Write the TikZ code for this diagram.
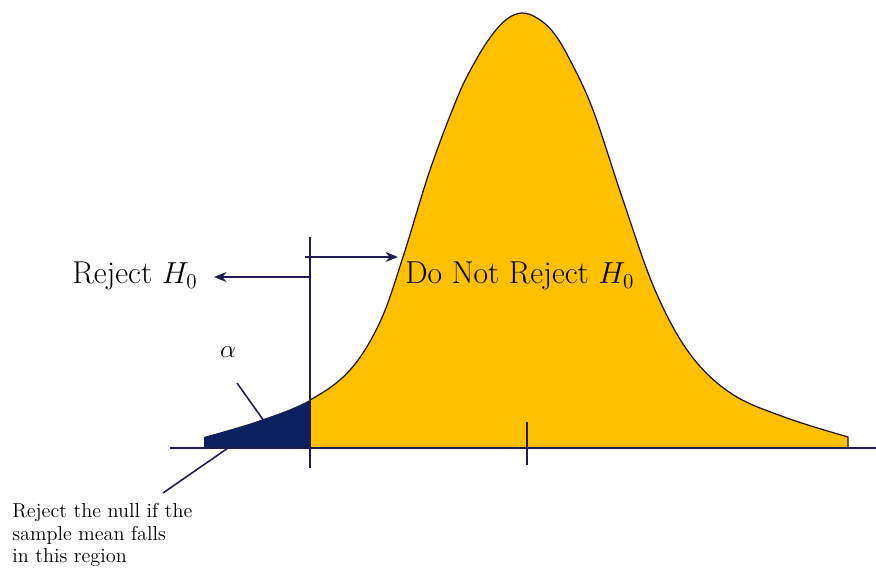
\documentclass[tikz,border=0pt]{standalone}
\usepackage{tikz}
\usetikzlibrary{arrows.meta}

\definecolor{bellgold}{HTML}{FFC000}
\definecolor{tailnavy}{HTML}{0C1F5E}
\definecolor{inkline}{HTML}{1E1B4F}

\begin{document}
\begin{tikzpicture}[x=0.02cm, y=-0.02cm,
  guide/.style={draw=inkline, line width=1.1pt},
  pointer/.style={-{Stealth[length=2.5mm, width=2mm]}, draw=inkline, line width=1.1pt},
  lbl/.style={inner sep=0pt, text=black}]
% frame of the picture (pixel grid of the reference)
\useasboundingbox (0,0) rectangle (876,574);

% coordinates
\coordinate (tailL) at (204,448); % left end of the rejection tail
\coordinate (tailR) at (848,448); % right end of the bell
\coordinate (cut) at (310,448);   % critical value on the axis
\coordinate (mu) at (527,448);    % centre tick on the axis

% area under the bell, saved for the shaded tail
\path[save path=\bellpath] (tailL) -- plot[smooth, tension=0.6] coordinates {(204,437)
    (258,421) (310,400) (350,370) (380,322) (403,257) (430,170) (458,96) (476,60) (492,35)
    (507,19) (522,13) (537,18) (553,32) (570,60) (593,110) (623,200) (655,290) (690,354)
    (732,394) (787,418) (848,437)}
  -- (tailR) -- cycle;
\fill[bellgold, use path=\bellpath];

% rejection region left of the cut
\begin{scope}
  \clip (0,0) rectangle (310,574);
  \fill[tailnavy, use path=\bellpath];
\end{scope}
\begin{scope}
  \clip (310,0) rectangle (876,574);
  \draw[black!85!brown, line width=0.7pt, use path=\bellpath];
\end{scope}

% horizontal axis and ticks
\draw[guide] (170,448) -- (876,448);
\draw[guide] (310,237) -- (310,468);
\draw[guide] (mu) ++(0,-26) -- ++(0,43);

% direction arrows from the critical line
\coordinate (rejfrom) at (310,277);
\coordinate (rejto) at (214,277);
\coordinate (accfrom) at (305,257);
\coordinate (accto) at (398,257);
\draw[pointer] (rejfrom) -- (rejto);
\draw[pointer] (accfrom) -- (accto);

% labels
\node[lbl, anchor=east, font=\fontsize{18}{22}\selectfont] (rejlbl) at (198,276) {Reject $H_0$};
\node[lbl, anchor=west, font=\fontsize{18}{22}\selectfont] (acclbl) at (405,276) {Do Not Reject $H_0$};
\node[lbl, font=\fontsize{15}{18}\selectfont] (alphalbl) at (228,352) {$\alpha$};
\node[lbl, anchor=north west, align=left, font=\fontsize{11.5}{12.8}\selectfont] (notelbl) at (12,503)
  {Reject the null if the\\sample mean falls\\in this region};

% leader lines to the tail area
\coordinate (alphatip) at (264,421);
\coordinate (notetip) at (228,448);
\draw[guide, line width=0.9pt] (237,383) -- (alphatip);
\draw[guide, line width=0.9pt] (notetip) -- (163,493);

\end{tikzpicture}
\end{document}
